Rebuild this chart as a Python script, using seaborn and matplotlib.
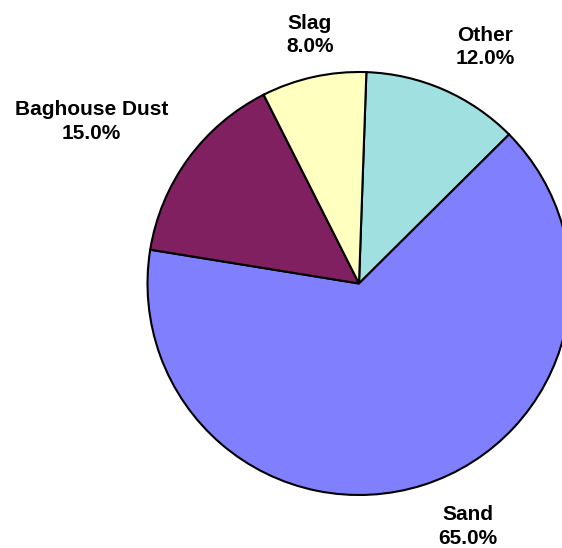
import matplotlib
matplotlib.use("Agg")
import matplotlib.pyplot as plt
import seaborn as sns

# Dados
categorias = ["Other", "Sand", "Baghouse Dust", "Slag"]
percentuais = [12.0, 65.0, 15.0, 8.0]
cores = ["#A0E0E0", "#8080FF", "#802060", "#FFFFC0"]

# Estilo limpo
sns.set_theme(style="white")
plt.rcParams['font.family'] = ['Liberation Sans', 'DejaVu Sans']

fig = plt.figure(figsize=(5.62, 5.48), dpi=100)
ax = fig.add_axes([0, 0, 1, 1])

wedges, _ = ax.pie(
    percentuais,
    colors=sns.color_palette(cores),
    startangle=88,
    counterclock=False,
    wedgeprops={'edgecolor': 'black', 'linewidth': 1.5},
)

# Centro do pie em (359, 283.5) px, raio 211.5 px
R = 211.5
ax.set_xlim(-359 / R, (562 - 359) / R)
ax.set_ylim(-(548 - 283.5) / R, 283.5 / R)
ax.axis('off')

# Posições dos rótulos (estilo Excel, em unidades de raio)
pos_rotulos = {
    "Other": (0.596, 1.118),
    "Sand": (0.515, -1.148),
    "Baghouse Dust": (-1.265, 0.765),
    "Slag": (-0.232, 1.175),
}

for cat, pct in zip(categorias, percentuais):
    x, y = pos_rotulos[cat]
    ax.text(x, y, f"{cat}\n{pct:.1f}%", ha='center', va='center',
            fontsize=15, fontweight='bold', linespacing=1.3, color='black')

plt.savefig("out.png", dpi=100)
